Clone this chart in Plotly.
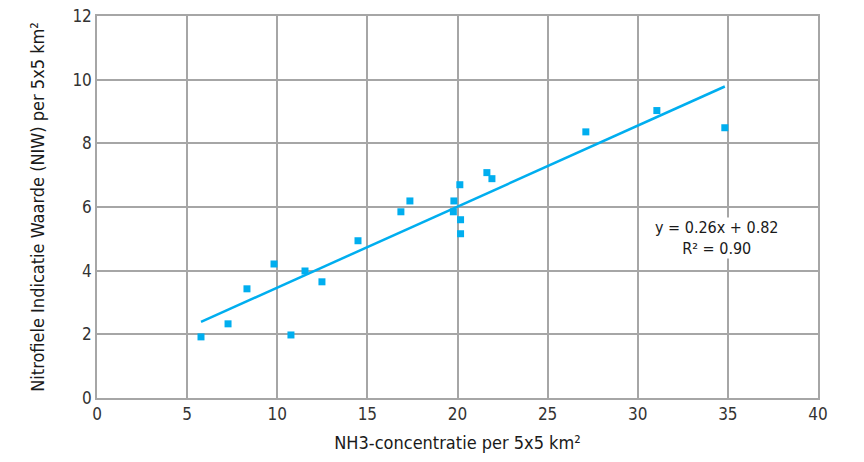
import numpy as np
import plotly.graph_objects as go

nh3 = [5.77, 7.27, 8.32, 9.82, 10.76, 11.54, 12.48, 14.48, 16.86, 17.36,
       19.80, 19.77, 20.13, 20.17, 20.17, 21.63, 21.91, 27.12, 31.06, 34.83]
niw = [1.92, 2.33, 3.43, 4.21, 1.98, 3.99, 3.65, 4.94, 5.85, 6.19,
       6.19, 5.85, 6.70, 5.60, 5.16, 7.08, 6.89, 8.36, 9.03, 8.49]
x_ticks = [0, 5, 10, 15, 20, 25, 30, 35, 40]
y_ticks = [0, 2, 4, 6, 8, 10, 12]
equation_line = "y = 0.26x + 0.82"
r2_line = "R² = 0.90"

slope, intercept = np.polyfit(nh3, niw, 1)
x_fit = np.array([min(nh3), max(nh3)])
y_fit = slope * x_fit + intercept

blue = "#00AEEF"
font_family = "Liberation Sans Narrow, Arial Narrow, DejaVu Sans Condensed, sans-serif"

fig = go.Figure()
fig.add_trace(go.Scatter(x=x_fit, y=y_fit, mode="lines",
                         line=dict(color=blue, width=2.5), hoverinfo="skip"))
fig.add_trace(go.Scatter(x=nh3, y=niw, mode="markers",
                         marker=dict(symbol="square", size=7, color=blue)))

fig.add_annotation(x=34.4, y=5.02, text=equation_line + "<br>" + r2_line,
                   showarrow=False, bgcolor="white", borderpad=0,
                   font=dict(size=16, color="#1a1a1a", family=font_family),
                   align="center", xanchor="center", yanchor="middle")

axis_common = dict(showgrid=True, gridcolor="#a6a6a6", gridwidth=1.5,
                   showline=True, linecolor="#a6a6a6", linewidth=1.5, mirror=True,
                   zeroline=False, ticks="", automargin=False,
                   ticklabeloverflow="allow",
                   tickfont=dict(size=17, color="#333333"))

fig.update_xaxes(range=[0, 40], tickvals=x_ticks, title=dict(
    text="NH3-concentratie per 5x5 km²", font=dict(size=18, color="#1a1a1a"), standoff=13),
    **axis_common)
fig.update_yaxes(range=[0, 12], tickvals=y_ticks, title=dict(
    text="Nitrofiele Indicatie Waarde (NIW) per 5x5 km²", font=dict(size=18, color="#1a1a1a"), standoff=23),
    **axis_common)

fig.update_layout(width=864, height=462, showlegend=False,
                  plot_bgcolor="white", paper_bgcolor="white",
                  font=dict(family=font_family),
                  margin=dict(l=97, r=46, t=16, b=64, autoexpand=False))

fig.write_html("out.html", config={"displayModeBar": False},
               post_script="document.body.style.margin='0';")
